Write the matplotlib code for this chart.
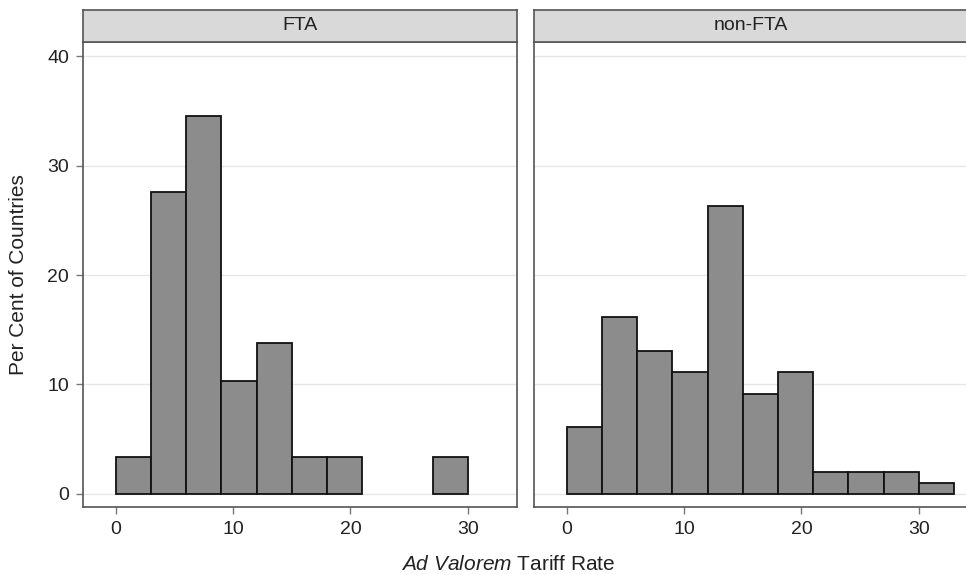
import matplotlib
matplotlib.use("Agg")
import matplotlib.pyplot as plt
import numpy as np

plt.rcParams['font.family'] = ['Liberation Sans', 'DejaVu Sans']
plt.rcParams['mathtext.fontset'] = 'custom'
plt.rcParams['mathtext.it'] = 'Liberation Sans:italic'
plt.rcParams['mathtext.rm'] = 'Liberation Sans'

# Data (per cent of countries per 3-point tariff bin)
bin_edges = [0, 3, 6, 9, 12, 15, 18, 21, 24, 27, 30, 33]
fta_pct = [3.4, 27.6, 34.5, 10.3, 13.8, 3.4, 3.4, 0.0, 0.0, 3.4, 0.0]
nonfta_pct = [6.1, 16.2, 13.1, 11.1, 26.3, 9.1, 11.1, 2.0, 2.0, 2.0, 1.0]
panels = ["FTA", "non-FTA"]
xticks = [0, 10, 20, 30]
yticks = [0, 10, 20, 30, 40]

W, H = 966, 575
fig = plt.figure(figsize=(W / 100, H / 100), dpi=100)
fig.patch.set_facecolor('white')

frame_col = '#555555'
lefts = [83, 534]
pw = 434
top_px, bot_px = 42, 507
strip_top = 10

edges = np.array(bin_edges, dtype=float)
for i, (name, vals) in enumerate(zip(panels, [fta_pct, nonfta_pct])):
    ax = fig.add_axes([lefts[i] / W, 1 - bot_px / H, pw / W, (bot_px - top_px) / H])
    v = np.array(vals, dtype=float)
    m = v > 0
    ax.bar(edges[:-1][m], v[m], width=np.diff(edges)[m], align='edge',
           color='#8c8c8c', edgecolor='#111111', linewidth=1.3, zorder=3)
    ax.set_xlim(-2.8, 34.2)
    ax.set_ylim(-1.2, 41.3)
    ax.set_xticks(xticks)
    ax.set_yticks(yticks)
    ax.yaxis.grid(True, color='#e6e6e6', linewidth=1.0, zorder=0)
    ax.set_axisbelow(True)
    for s in ax.spines.values():
        s.set_color(frame_col)
        s.set_linewidth(1.2)
    ax.tick_params(axis='both', direction='out', length=5, width=1.0,
                   color='#777777', labelsize=14, labelcolor='#222222')
    ax.tick_params(axis='y', pad=5)
    ax.tick_params(axis='x', pad=5)
    if i == 1:
        ax.tick_params(axis='y', left=False, labelleft=False)
    # strip header
    sax = fig.add_axes([lefts[i] / W, 1 - top_px / H, pw / W, (top_px - strip_top) / H])
    sax.set_facecolor('#d9d9d9')
    sax.set_xticks([])
    sax.set_yticks([])
    for s in sax.spines.values():
        s.set_color(frame_col)
        s.set_linewidth(1.2)
    sax.text(0.5, 0.5, name, ha='center', va='center', fontsize=14,
             color='#222222', transform=sax.transAxes)

fig.text(18.5 / W, 1 - 275 / H, "Per Cent of Countries", rotation=90,
         ha='center', va='center', fontsize=15, color='#222222')
fig.text(508 / W, 1 - 564 / H, r"$\mathit{Ad\ Valorem}$ Tariff Rate",
         ha='center', va='center', fontsize=15, color='#222222')

fig.savefig("out.png", dpi=100, facecolor='white')
